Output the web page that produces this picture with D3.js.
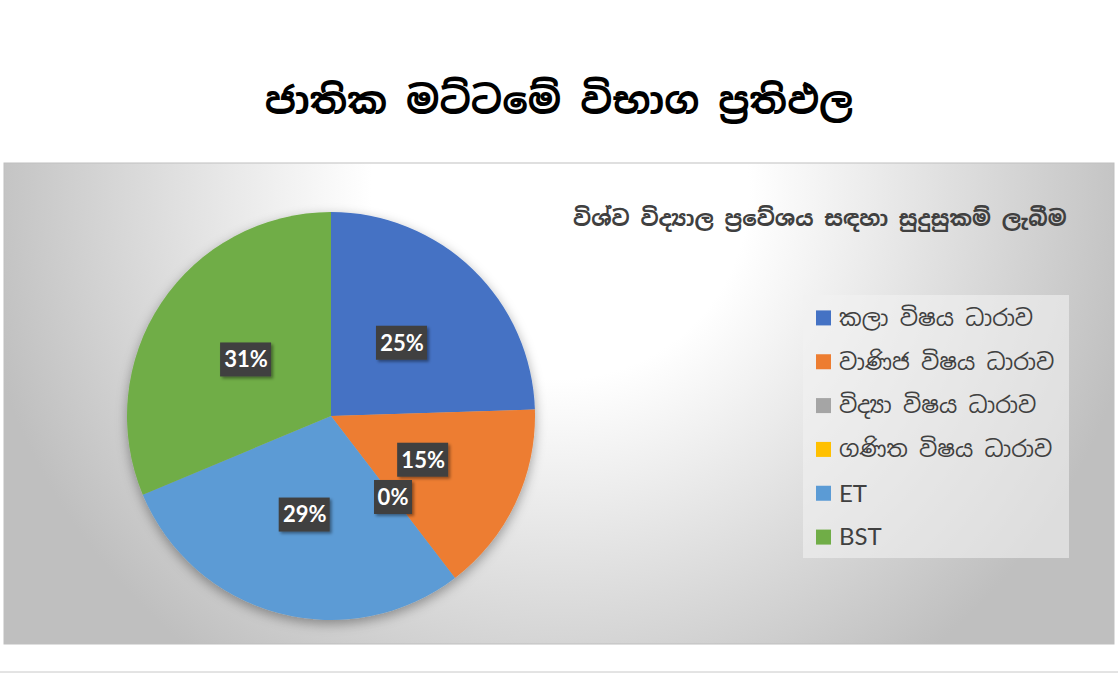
<!DOCTYPE html>
<html>
<head>
<meta charset="utf-8">
<script src="https://cdn.jsdelivr.net/npm/d3@7"></script>
<style>
  body { margin: 0; background: #fff; }
  svg { display: block; }
</style>
</head>
<body>
<div id="area1"></div>
<script>
var categories = ["කලා විෂය ධාරාව", "වාණිජ විෂය ධාරාව", "විද්‍යා විෂය ධාරාව", "ගණිත විෂය ධාරාව", "ET", "BST"];
var values = [24.5, 15.1, 0, 0, 29.1, 31.3];
var labels = ["25%", "15%", "0%", "", "29%", "31%"];
var colors = ["#4472C4", "#ED7D31", "#A5A5A5", "#FFC000", "#5B9BD5", "#70AD47"];

var title = "ජාතික මට්ටමේ විභාග ප්‍රතිඵල";
var subtitle = "විශ්ව විද්‍යාල ප්‍රවේශය සඳහා සුදුසුකම් ලැබීම";

var width = 1118, height = 673;
var sinhala = "'Iskoola Pota', 'Noto Sans Sinhala', 'Noto Serif Sinhala', sans-serif";
var latin = "Lato, 'Open Sans', sans-serif";

var svg = d3.select("#area1").append("svg")
	.attr("width", width)
	.attr("height", height);

var defs = svg.append("defs");
var grad = defs.append("radialGradient")
	.attr("id", "bg")
	.attr("gradientUnits", "userSpaceOnUse")
	.attr("cx", 560).attr("cy", 190).attr("r", 590);
grad.append("stop").attr("offset", 0.32).attr("stop-color", "#ffffff");
grad.append("stop").attr("offset", 1).attr("stop-color", "#bfbfbf");

var shadow = defs.append("filter").attr("id", "pieShadow")
	.attr("x", "-20%").attr("y", "-20%").attr("width", "140%").attr("height", "140%");
shadow.append("feDropShadow").attr("dx", 0).attr("dy", 4).attr("stdDeviation", 6)
	.attr("flood-color", "#000").attr("flood-opacity", 0.35);

var boxShadow = defs.append("filter").attr("id", "boxShadow")
	.attr("x", "-30%").attr("y", "-30%").attr("width", "160%").attr("height", "160%");
boxShadow.append("feDropShadow").attr("dx", 2).attr("dy", 2).attr("stdDeviation", 1.5)
	.attr("flood-color", "#000").attr("flood-opacity", 0.4);

// title
svg.append("text")
	.attr("x", 559).attr("y", 114)
	.attr("text-anchor", "middle")
	.style("font-family", sinhala)
	.style("font-size", "38px")
	.style("font-weight", "bold")
	.style("fill", "#000")
	.text(title);

// chart area
svg.append("rect")
	.attr("x", 4).attr("y", 163)
	.attr("width", 1110).attr("height", 481)
	.style("fill", "url(#bg)")
	.style("stroke", "#bfbfbf")
	.style("stroke-width", 1);

svg.append("line")
	.attr("x1", 0).attr("x2", width)
	.attr("y1", 672).attr("y2", 672)
	.style("stroke", "#c8c8c8");

svg.append("text")
	.attr("x", 573).attr("y", 226)
	.style("font-family", sinhala)
	.style("font-size", "21.5px")
	.style("font-weight", "bold")
	.style("fill", "#404040")
	.text(subtitle);

// pie
var radius = 204;
var pie = d3.pie().sort(null).value(function (d) { return d; });
var arc = d3.arc().innerRadius(0).outerRadius(radius);
var labelArc = d3.arc().innerRadius(radius * 0.5).outerRadius(radius * 0.5);
var arcs = pie(values);

var pieG = svg.append("g").attr("transform", "translate(331,416)");
pieG.append("g").attr("filter", "url(#pieShadow)")
	.selectAll("path")
	.data(arcs)
	.enter()
	.append("path")
	.attr("d", arc)
	.style("fill", function (d, i) { return colors[i]; });

var lab = pieG.selectAll("g.lab")
	.data(arcs.filter(function (d, i) { return labels[i] != ""; }))
	.enter()
	.append("g")
	.attr("class", "lab")
	.attr("transform", function (d) {
		var c = labelArc.centroid(d);
		return "translate(" + c[0] + "," + c[1] + ")";
	});
lab.append("rect")
	.attr("x", function (d) { return labels[d.index].length > 2 ? -26 : -19; })
	.attr("y", -17)
	.attr("width", function (d) { return labels[d.index].length > 2 ? 51 : 38; })
	.attr("height", 34)
	.attr("filter", "url(#boxShadow)")
	.style("fill", "#404040");
lab.append("text")
	.attr("text-anchor", "middle")
	.attr("dy", "0.36em")
	.style("font-family", latin)
	.style("font-size", "22px")
	.style("font-weight", "bold")
	.style("fill", "#fff")
	.text(function (d) { return labels[d.index]; });

// legend
svg.append("rect")
	.attr("x", 803).attr("y", 295)
	.attr("width", 266).attr("height", 263)
	.style("fill", "#f2f2f2")
	.style("fill-opacity", 0.6);

var y = d3.scaleBand().domain(categories).range([296, 559]);
var leg = svg.selectAll("g.leg")
	.data(categories)
	.enter()
	.append("g")
	.attr("class", "leg")
	.attr("transform", function (d) { return "translate(816," + (y(d) + y.bandwidth() / 2) + ")"; });
leg.append("rect")
	.attr("x", 0).attr("y", -7.5)
	.attr("width", 15).attr("height", 15)
	.style("fill", function (d, i) { return colors[i]; });
leg.append("text")
	.attr("x", 23).attr("dy", "0.35em")
	.style("font-family", function (d, i) { return i < 4 ? sinhala : latin; })
	.style("font-size", function (d, i) { return i < 4 ? "22.5px" : "24px"; })
	.style("fill", "#404040")
	.text(function (d) { return d; });
</script>
</body>
</html>
